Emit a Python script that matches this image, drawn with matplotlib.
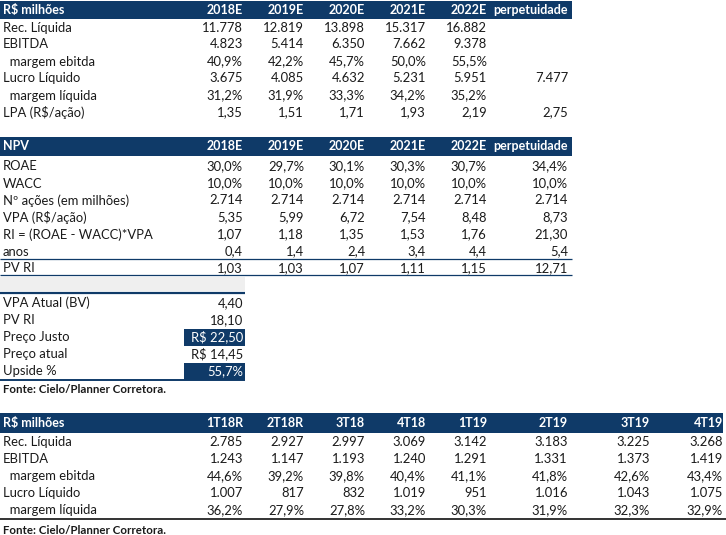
import matplotlib
matplotlib.use("Agg")
import matplotlib.pyplot as plt
from matplotlib.patches import Rectangle

# ---------------- data ----------------
t1_title = "R$ milhões"
t1_cols = ["2018E", "2019E", "2020E", "2021E", "2022E", "perpetuidade"]
t1_labels = ["Rec. Líquida", "EBITDA", "  margem ebitda", "Lucro Líquido",
             "  margem líquida", "LPA (R$/ação)"]
rec_liquida = [11778, 12819, 13898, 15317, 16882, None]
ebitda = [4823, 5414, 6350, 7662, 9378, None]
margem_ebitda = [40.9, 42.2, 45.7, 50.0, 55.5, None]
lucro_liquido = [3675, 4085, 4632, 5231, 5951, 7477]
margem_liquida = [31.2, 31.9, 33.3, 34.2, 35.2, None]
lpa = [1.35, 1.51, 1.71, 1.93, 2.19, 2.75]
t1_kinds = ["int", "int", "pct", "int", "pct", "dec2"]

t2_title = "NPV"
t2_labels = ["ROAE", "WACC", "Nº ações (em milhões)", "VPA (R$/ação)",
             "RI = (ROAE - WACC)*VPA", "anos", "PV RI"]
roae = [30.0, 29.7, 30.1, 30.3, 30.7, 34.4]
wacc = [10.0, 10.0, 10.0, 10.0, 10.0, 10.0]
n_acoes = [2714, 2714, 2714, 2714, 2714, 2714]
vpa = [5.35, 5.99, 6.72, 7.54, 8.48, 8.73]
ri = [1.07, 1.18, 1.35, 1.53, 1.76, 21.30]
anos = [0.4, 1.4, 2.4, 3.4, 4.4, 5.4]
pv_ri = [1.03, 1.03, 1.07, 1.11, 1.15, 12.71]
t2_kinds = ["pct", "pct", "int", "dec2", "dec2", "dec1", "dec2"]

t3_labels = ["VPA Atual (BV)", "PV RI", "Preço Justo", "Preço atual", "Upside %"]
t3_values = ["4,40", "18,10", "R$ 22,50", "R$ 14,45", "55,7%"]
t3_highlight = [False, False, True, False, True]

fonte = "Fonte: Cielo/Planner Corretora."

t4_title = "R$ milhões"
t4_cols = ["1T18R", "2T18R", "3T18", "4T18", "1T19", "2T19", "3T19", "4T19"]
t4_labels = ["Rec. Líquida", "EBITDA", "  margem ebitda", "Lucro Líquido", "  margem líquida"]
q_rec = [2785, 2927, 2997, 3069, 3142, 3183, 3225, 3268]
q_ebitda = [1243, 1147, 1193, 1240, 1291, 1331, 1373, 1419]
q_mebitda = [44.6, 39.2, 39.8, 40.4, 41.1, 41.8, 42.6, 43.4]
q_lucro = [1007, 817, 832, 1019, 951, 1016, 1043, 1075]
q_mliq = [36.2, 27.9, 27.8, 33.2, 30.3, 31.9, 32.3, 32.9]
t4_kinds = ["int", "int", "pct", "int", "pct"]


# ---------------- formatting ----------------
def fmt(v, kind):
    if v is None:
        return ""
    if kind == "int":
        return f"{int(round(v)):,}".replace(",", ".")
    if kind == "pct":
        return f"{v:.1f}%".replace(".", ",")
    if kind == "dec2":
        return f"{v:.2f}".replace(".", ",")
    if kind == "dec1":
        return f"{v:.1f}".replace(".", ",")
    return str(v)


NAVY = "#0f3a68"
TXT = "#1a1a1a"
FONT = "Lato"
FS = 9.4
FSB = 9.0

W, H = 726, 535
fig = plt.figure(figsize=(W / 100, H / 100), dpi=100)
ax = fig.add_axes([0, 0, 1, 1])
ax.set_xlim(0, W)
ax.set_ylim(H, 0)
ax.axis("off")


def txt(x, y, s, ha="left", color=TXT, bold=False, size=None):
    ax.text(x, y, s, ha=ha, va="center", color=color,
            fontsize=size if size else (FSB if bold else FS),
            family=FONT, fontweight="bold" if bold else "normal")


def band(x0, x1, y0, y1, color=NAVY):
    ax.add_patch(Rectangle((x0, y0), x1 - x0, y1 - y0, facecolor=color,
                           edgecolor="none"))


def hline(x0, x1, y, lw=1.0, color=NAVY):
    ax.plot([x0, x1], [y, y], color=color, lw=lw, solid_capstyle="butt")


LX = 3
c6 = [243, 304, 365, 426, 487, 568]
c8 = [243, 304, 365, 426, 487, 568, 650, 723]

# ---- table 1 ----
band(0, 572, 1, 19)
txt(LX, 10, t1_title, color="white", bold=True)
for x, c in zip(c6, t1_cols):
    txt(x, 10, c, ha="right", color="white", bold=True)
t1_data = [rec_liquida, ebitda, margem_ebitda, lucro_liquido, margem_liquida, lpa]
for i, (lab, row, k) in enumerate(zip(t1_labels, t1_data, t1_kinds)):
    y = 27.5 + 17 * i
    txt(LX, y, lab)
    for x, v in zip(c6, row):
        txt(x, y, fmt(v, k), ha="right")

# ---- table 2 ----
band(0, 572, 137, 156)
txt(LX, 146.5, t2_title, color="white", bold=True)
for x, c in zip(c6, t1_cols):
    txt(x, 146.5, c, ha="right", color="white", bold=True)
t2_data = [roae, wacc, n_acoes, vpa, ri, anos, pv_ri]
for i, (lab, row, k) in enumerate(zip(t2_labels, t2_data, t2_kinds)):
    y = 166.5 + 17 * i
    txt(LX, y, lab)
    for x, v in zip(c6, row):
        txt(x, y, fmt(v, k), ha="right")
hline(0, 572, 258.5, lw=0.9)
hline(0, 572, 275, lw=0.9)

# ---- table 3 ----
band(0, 245, 277, 291, color="#efefef")
hline(0, 245, 292.5, lw=1.6)
for i, (lab, val, hl) in enumerate(zip(t3_labels, t3_values, t3_highlight)):
    y = 303 + 17 * i
    txt(LX, y, lab)
    if hl:
        band(184, 245, y - 8.5, y + 8.5)
        txt(243, y, val, ha="right", color="white")
    else:
        txt(243, y, val, ha="right")
hline(0, 245, 379.5, lw=1.4)
txt(LX, 389.5, fonte, bold=True, size=8.3)

# ---- table 4 ----
band(0, 723, 413, 433)
txt(LX, 423, t4_title, color="white", bold=True)
for x, c in zip(c8, t4_cols):
    txt(x, 423, c, ha="right", color="white", bold=True)
t4_data = [q_rec, q_ebitda, q_mebitda, q_lucro, q_mliq]
for i, (lab, row, k) in enumerate(zip(t4_labels, t4_data, t4_kinds)):
    y = 442 + 17 * i
    txt(LX, y, lab)
    for x, v in zip(c8, row):
        txt(x, y, fmt(v, k), ha="right")
hline(0, 726, 518.5, lw=1.2, color="#111111")
txt(LX, 530, fonte, bold=True, size=8.3)

fig.savefig("out.png", dpi=100, facecolor="white")
